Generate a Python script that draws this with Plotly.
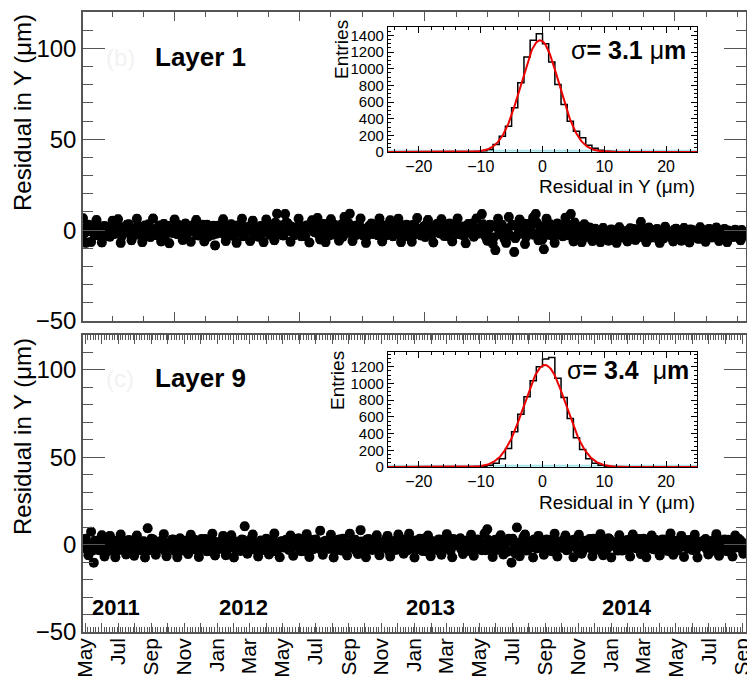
import numpy as np
import pandas as pd
import plotly.graph_objects as go

# ---------------- data ----------------
# two interleaved run series per layer (run dates every 5 days, second series offset by 2 days)
start_date_a = "2011-04-27"
start_date_b = "2011-04-29"
step_days = "5D"

layer1_resid_a = [
    6.5, -7.0, 3.0, -6.5, 1.2, 5.5, -2.8, -6.8, 2.2, 0.4,
    -3.6, 5.2, -1.2, 6.0, -7.0, 1.6, -0.8, 3.2, -5.6, 0.9,
    6.2, -2.4, -6.6, 2.6, 0.1, -3.8, 6.4, -1.6, 1.8, -6.2,
    3.4, -0.4, -7.2, 2.0, 5.8, -2.2, 0.6, -5.4, 3.6, -1.0,
    -6.4, 2.8, 5.6, -3.0, 0.3, -6.2, 3.0, 1.0, -2.6, -8.4,
    2.4, -1.4, 6.0, -6.0, 0.8, 3.2, -3.2, -7.0, 1.4, 6.2,
    -2.0, 0.0, -6.0, 5.2, 1.6, -3.6, 2.2, -6.6, 5.8, -0.6,
    2.8, -5.6, 9.0, 0.5, -2.8, 8.8, 3.6, -6.4, 1.2, -1.8,
    6.2, -3.4, 0.4, 2.6, -6.8, 5.4, -1.2, 6.6, -5.2, 1.0,
    -6.6, 2.0, 6.0, -2.4, 0.6, -5.8, 3.2, 7.2, -1.6, 9.0,
    -6.0, 2.4, 0.2, 6.4, -3.0, -7.0, 1.8, 3.6, -2.2, 0.8,
    6.4, -6.2, 2.2, -1.0, 5.4, -3.4, 0.0, 6.2, -6.6, 1.4,
    3.0, -2.8, -6.4, 2.6, 6.6, -1.4, 0.6, -3.8, 5.6, 1.8,
    -6.8, 2.8, -0.8, 6.0, -3.2, 1.0, 3.6, -6.2, 0.4, 6.4,
    -2.4, 2.0, -7.2, 3.4, 0.8, -3.6, 6.4, -1.8, 8.8, 1.6,
    -5.8, 3.0, -7.4, -11.0, 6.2, -2.0, 0.2, -7.0, 7.2, 2.4,
    -12.0, -3.0, 5.8, 0.8, -7.6, 3.4, -1.2, 6.8, 8.8, -5.6,
    2.0, -10.5, 6.2, -2.6, 0.4, -7.0, 3.6, 1.0, -3.4, 6.8,
    -1.8, 8.8, -6.2, 2.4, 0.0, -6.6, 3.2, -2.2, 1.4, -6.0,
    0.8, -3.6, -6.6, 1.2, -1.6, -5.8, 0.4, -2.8, -7.0, 1.6,
    -3.2, -0.6, -6.2, 1.0, -2.2, -5.4, 0.2, 4.5, -3.8, -6.6,
    1.4, -1.4, -4.0, 0.6, -7.0, -2.6, 1.8, -3.4, -0.8, -6.2,
    0.8, -2.0, -5.8, 1.2, -3.0, -6.8, 0.0, -1.8, -4.2, 1.6,
    -2.8, -6.4, 0.4, -1.0, -3.6, 1.4, -6.0, -2.2, 0.6, -6.6,
    -1.6, -3.8, 0.2, -2.6, -5.6, -1.2,
]
layer1_resid_b = [
    -2.0, 1.8, -0.6, 2.4, -3.0, 0.8, 2.0, -1.4, -3.2, 1.4,
    0.2, -2.2, 2.8, -0.8, -3.4, 1.2, 3.0, -1.8, 0.6, -2.6,
    2.2, -0.4, -3.0, 1.6, 3.2, -1.2, 0.4, -2.8, 2.6, -0.2,
    -3.4, 1.0, 2.4, -1.6, -0.4, 2.8, -2.4, 1.4, -3.2, 0.6,
    2.0, -1.0, -2.8, 1.8, 3.0, -0.8, -3.6, 0.0, 2.4, -2.0,
    0.8, 3.0, -2.4, -0.6, 2.2, -3.0, 1.0, 2.6, -1.2, -3.4,
    1.6, -0.2, 2.8, -2.2, 0.4, -3.2, 2.0, -1.0, 3.2, -2.6,
    0.6, 4.0, -1.6, 2.6, -3.0, 4.2, -0.4, 1.8, -2.8, 0.2,
    2.4, -1.8, -3.4, 1.2, 3.0, -0.6, 2.2, -2.4, 0.4, 3.4,
    -1.4, -3.0, 1.6, 2.8, -2.0, 0.8, -3.6, 2.0, 4.0, -0.8,
    1.4, -2.6, 3.2, -1.0, 0.6, -3.2, 2.4, -0.2, 1.8, -2.8,
    -0.4, 2.6, -3.0, 1.0, -1.6, 3.0, -2.2, 0.2, 2.2, -3.4,
    1.2, -0.8, 2.8, -2.4, 0.4, -3.0, 2.0, 3.2, -1.2, -2.6,
    0.8, 3.4, -1.8, -0.2, 2.4, -3.4, 1.4, -1.0, 2.8, -2.2,
    0.6, -3.2, 2.2, -0.6, 3.6, -2.8, 1.0, -1.4, 3.2, -3.6,
    0.2, 2.6, -4.0, 1.8, -2.2, 3.0, -5.0, 0.6, -3.0, 2.8,
    -4.4, 1.4, -1.6, 3.6, -3.8, 0.4, 2.4, -2.6, 4.0, -0.8,
    -5.2, 2.2, -1.8, 3.2, -3.4, 0.8, -2.4, 2.6, -0.6, 3.8,
    -3.0, 1.6, 4.2, -2.2, -0.4, 2.0, -3.8, 0.6, -1.4, -3.0,
    -1.0, -3.8, 0.2, -2.4, -4.4, -0.6, -3.0, -1.2, 0.4, -4.0,
    -2.0, -4.6, -0.2, -3.4, 0.6, -1.6, -3.8, 1.0, -2.6, -0.8,
    -4.2, -2.2, 0.0, -3.6, -1.0, -4.6, -0.4, -2.8, -4.0, 0.2,
    -2.4, -3.6, -0.6, -4.4, -1.4, 0.4, -3.2, -2.0, -4.8, -0.8,
    -3.0, -1.2, 0.6, -4.0, -2.2, -0.4, -3.4, -1.6, -4.2, -0.2,
    -2.8, -0.6, -3.6, -1.8, 0.0, -3.0,
]

layer9_resid_a = [
    -1.0, 3.4, -6.0, 7.4, -10.3, 2.0, -3.2, 5.4, -6.8, 0.6,
    5.0, -2.4, -7.2, 1.8, 5.8, -1.4, -5.6, 2.6, 0.2, -6.4,
    5.2, -3.0, 1.2, -7.4, 9.4, -0.8, 3.0, -5.8, 1.6, -2.0,
    6.0, -6.6, 0.4, 2.8, -3.6, -7.2, 3.6, -1.2, 1.0, -5.4,
    5.6, -2.6, 0.8, -7.0, 3.2, -0.4, -3.8, 2.2, 6.2, -6.2,
    1.4, -2.2, 5.0, -6.0, 0.0, 5.4, -7.4, 1.8, -1.6, 3.0,
    10.5, -5.2, 0.6, 5.8, -2.8, -6.8, 2.4, -0.6, 3.4, -5.6,
    1.2, 6.4, -3.2, -7.2, 2.0, 0.2, -2.0, 5.2, -6.4, 1.6,
    3.6, -3.8, -0.2, 6.0, -7.0, 2.6, -1.4, 0.8, 8.0, -5.8,
    2.2, -2.4, 5.6, -7.4, 0.4, 3.0, -3.4, 1.4, -6.2, 6.2,
    -1.8, 2.8, -5.4, 8.3, 0.0, -7.2, 3.2, -2.6, 1.0, 5.4,
    -6.0, 0.6, -1.0, 5.0, -6.8, 2.0, -3.0, 5.8, -0.6, -5.2,
    2.4, 6.2, -2.2, -7.4, 1.2, 3.4, -3.6, 0.2, 5.2, -6.6,
    1.8, -1.6, 3.0, -5.8, 0.8, 6.0, -2.8, -7.2, 2.6, -0.4,
    3.6, -5.4, 1.4, -1.8, 5.6, -6.4, 0.4, 2.2, -3.2, 6.4,
    8.8, -2.4, -7.0, 2.8, -0.8, 5.4, -5.6, 1.0, 3.4, -10.3,
    -2.0, 9.8, -6.6, 0.6, 5.8, -3.0, 2.0, -7.4, 1.6, 5.0,
    -1.2, -5.8, 3.0, 0.2, -3.8, 6.2, -6.8, 1.8, -0.6, 5.2,
    -2.6, 2.4, -7.2, 0.8, 5.6, -5.2, 1.2, -1.4, 3.2, -6.6,
    2.0, -2.2, 6.0, -6.0, 0.4, 3.6, -7.4, 1.4, -0.8, 5.4,
    -3.4, 0.0, 2.6, -6.8, 5.8, -1.8, 1.0, -5.4, 3.4, -7.2,
    0.6, 5.2, -2.8, 1.8, -6.2, 3.0, -0.2, -3.6, 6.4, -5.8,
    1.2, -1.6, 5.0, -7.0, 0.4, 2.6, -3.0, 5.6, -7.4, 1.6,
    -0.6, 3.2, -5.6, 2.0, -2.4, 6.0, -6.4, 0.8, 3.0, -3.8,
    1.4, -6.8, 5.2, -1.0, 2.2, -5.2,
]
layer9_resid_b = [
    1.8, -2.6, 0.4, -3.4, 2.2, -0.8, 3.0, -2.0, 1.0, -3.6,
    0.2, 2.4, -1.8, -3.0, 2.8, 0.6, -2.4, 1.6, -3.8, 3.2,
    -0.6, -2.8, 2.0, 0.0, -3.2, 3.4, -1.4, 1.2, -2.2, 2.6,
    -3.6, 0.8, -1.0, 3.0, -2.6, 1.4, 0.4, -3.4, 2.4, -1.6,
    -0.2, 2.8, -3.0, 1.0, -2.0, 3.2, -0.8, -3.8, 1.8, 0.4,
    -2.4, 2.2, -1.2, -3.4, 3.0, 0.6, -2.2, 1.4, -3.6, 2.6,
    0.0, -1.8, 3.4, -2.8, 1.2, -0.4, -3.2, 2.0, 0.8, -2.4,
    3.0, -3.8, 0.2, 1.8, -1.6, 2.8, -3.0, 0.6, -0.8, 3.2,
    -2.2, 1.0, -3.6, 2.4, 0.4, -2.6, 3.0, -1.0, -3.2, 1.6,
    0.0, -2.0, 2.6, -3.4, 1.2, -0.6, 3.4, -2.8, 0.8, -1.4,
    2.2, -3.6, 0.6, 1.8, -2.4, 3.0, -1.2, -3.0, 2.0, 0.2,
    -2.2, 1.4, 3.2, -3.4, 0.4, -1.6, 2.6, -2.8, 1.0, 3.0,
    -3.2, 0.8, -0.8, 2.4, -2.6, 1.6, 3.4, -3.8, 0.0, 2.0,
    -1.8, -3.0, 2.8, 0.6, -2.2, 1.2, -3.4, 3.2, -0.4, 1.8,
    -2.8, 0.2, 2.4, -3.6, 1.0, -1.0, 3.0, -2.4, 0.6, -3.2,
    2.6, -0.6, 1.4, -3.0, 3.6, -2.0, 0.4, -4.0, 2.2, 3.4,
    -5.0, 1.0, -2.6, 4.2, -3.4, 0.8, -1.4, 3.0, -2.2, 0.2,
    2.4, -3.6, 1.2, -0.8, 3.2, -2.8, 0.6, -1.8, 2.8, -3.2,
    1.6, -0.4, 3.0, -2.4, 0.0, -3.6, 2.2, 1.0, -2.0, 3.4,
    -1.2, -3.0, 2.0, 0.4, -2.6, 3.0, -0.6, 1.4, -3.4, 2.6,
    -1.8, 0.8, -3.2, 2.4, 0.2, -2.2, 3.2, -1.0, -3.6, 1.8,
    0.6, -2.4, 2.8, -0.4, -3.0, 1.2, 3.0, -2.8, 0.0, 2.2,
    -3.4, 1.6, -1.2, 2.6, -2.0, 0.4, 3.4, -3.2, 1.0, -0.8,
    2.4, -2.6, 0.8, -3.6, 3.0, -1.4, 1.8, -2.2, 0.2, 2.8,
    -3.0, 1.2, -1.6, 3.2, -2.4, 0.6,
]
resid_error = 2.2

hist_bin_lo = -25
hist_bin_width = 1
layer1_counts = [
    0, 0, 0, 0, 0, 0, 0, 1, 1, 1, 2, 2,
    3, 4, 7, 14, 30, 90, 190, 310, 530, 830, 1140, 1340, 1420,
    1300, 1080, 810, 570, 370, 250, 170, 80, 45, 20, 10, 6, 4, 3, 2,
    2, 1, 1, 1, 0, 0, 0, 0, 0, 0,
]
layer9_counts = [
    0, 0, 0, 0, 0, 0, 0, 0, 1, 1, 1, 2,
    2, 3, 5, 8, 20, 45, 100, 220, 420, 630, 840, 1030, 1200,
    1290, 1310, 1060, 830, 580, 350, 210, 100, 45, 20, 8, 5, 3, 2, 2,
    1, 1, 1, 0, 0, 0, 0, 0, 0, 0,
]
layer1_fit = {"amp": 1340, "mean": -0.4, "sigma": 3.1}
layer9_fit = {"amp": 1220, "mean": 0.4, "sigma": 3.4}

month_ticks = pd.date_range("2011-05-01", "2014-09-01", freq="MS")
month_labels = [d.strftime("%b") if i % 2 == 0 else "" for i, d in enumerate(month_ticks)]
year_labels = ["2011", "2012", "2013", "2014"]

# ---------------- figure ----------------
FONT = "Liberation Sans, Arial, sans-serif"
W, H = 747, 679
ML, MR, MT, MB = 83, 1, 12, 47
PW, PH = W - ML - MR, H - MT - MB


def px_x(p):
    return (p - ML) / PW


def px_y(p):
    return (H - MB - p) / PH


fig = go.Figure()

marker = dict(color="black", size=10, line=dict(width=0))
err = dict(type="constant", value=resid_error, color="black", thickness=1, width=3)

for vals, start, xa, ya in [(layer1_resid_a, start_date_a, "x2", "y2"),
                            (layer1_resid_b, start_date_b, "x2", "y2"),
                            (layer9_resid_a, start_date_a, "x", "y"),
                            (layer9_resid_b, start_date_b, "x", "y")]:
    dates = pd.date_range(start, periods=len(vals), freq=step_days)
    fig.add_trace(go.Scatter(x=dates, y=vals, mode="markers", marker=marker,
                             error_y=err, xaxis=xa, yaxis=ya, showlegend=False))

centers = [hist_bin_lo + hist_bin_width * (i + 0.5) for i in range(len(layer1_counts))]
xs = np.linspace(-25, 25, 500)

for counts, fit, xa, ya in [(layer1_counts, layer1_fit, "x3", "y3"),
                            (layer9_counts, layer9_fit, "x4", "y4")]:
    fig.add_trace(go.Scatter(x=[-25, 25], y=[15, 15], mode="lines",
                             line=dict(color="#a8e6ee", width=2),
                             xaxis=xa, yaxis=ya, showlegend=False))
    fig.add_trace(go.Scatter(x=centers, y=counts, mode="lines", line_shape="hvh",
                             line=dict(color="black", width=1.5),
                             xaxis=xa, yaxis=ya, showlegend=False))
    g = fit["amp"] * np.exp(-0.5 * ((xs - fit["mean"]) / fit["sigma"]) ** 2)
    fig.add_trace(go.Scatter(x=xs, y=g, mode="lines", line=dict(color="#ee0000", width=2),
                             xaxis=xa, yaxis=ya, showlegend=False))

date_range = ["2011-04-27", "2014-09-08"]
axis_line = dict(showline=True, linecolor="#555", linewidth=1.5, mirror="allticks",
                 showgrid=False, zeroline=False, ticks="inside", tickcolor="#555",
                 automargin=False)

DAY = 86400000

yaxis_common = dict(range=[-50, 120], tickvals=[-50, 0, 50, 100], ticklen=22, tickwidth=1,
                    minor=dict(dtick=10, tick0=0, ticklen=10, ticks="inside", tickcolor="#555"),
                    tickfont=dict(size=24, color="black", family=FONT), **axis_line)

fig.update_layout(
    width=W, height=H,
    margin=dict(l=ML, r=MR, t=MT, b=MB, pad=0, autoexpand=False),
    paper_bgcolor="white", plot_bgcolor="white",
    font=dict(family=FONT, color="black"),
    # bottom panel
    xaxis=dict(domain=[0, 1], anchor="y", type="date", range=date_range,
               tickmode="array", tickvals=month_ticks, ticktext=month_labels,
               tickangle=-90, ticklen=9, tickwidth=1, ticklabeloverflow="allow",
               ticklabelstandoff=-4,
               tickfont=dict(size=21, color="black", family=FONT),
               minor=dict(dtick=5 * DAY, tick0="2011-05-01", ticklen=5, ticks="inside",
                          tickcolor="#555"),
               **axis_line),
    yaxis=dict(domain=[0, px_y(335)], anchor="x", **yaxis_common),
    # top panel
    xaxis2=dict(domain=[0, 1], anchor="y2", type="date", range=date_range,
                tick0="2011-10-14", dtick=232 * DAY, ticklen=9, tickwidth=1,
                showticklabels=False,
                minor=dict(tick0="2011-10-14", dtick=58 * DAY, ticklen=5, ticks="inside",
                           tickcolor="#555"),
                **axis_line),
    yaxis2=dict(domain=[px_y(321), 1], anchor="x2", **yaxis_common),
)

inset_axis = dict(showline=True, linecolor="black", linewidth=1.2, mirror="allticks",
                  showgrid=False, zeroline=False, ticks="inside", tickcolor="black",
                  automargin=False)
for xa, ya, ytop, ybot, ymax in [("xaxis3", "yaxis3", 27, 152, 1500),
                                 ("xaxis4", "yaxis4", 352, 467, 1375)]:
    fig.update_layout({
        xa: dict(domain=[px_x(388), px_x(697)], anchor=ya.replace("axis", ""),
                 range=[-25, 25], dtick=10, ticklen=6,
                 minor=dict(dtick=2, ticklen=3, ticks="inside", tickcolor="black"),
                 tickfont=dict(size=16, color="black", family=FONT), **inset_axis),
        ya: dict(domain=[px_y(ybot), px_y(ytop)], anchor=xa.replace("axis", ""),
                 range=[0, ymax], dtick=200, ticklen=6,
                 minor=dict(dtick=50, ticklen=3, ticks="inside", tickcolor="black"),
                 tickfont=dict(size=15, color="black", family=FONT), **inset_axis),
    })

ann = []


def add(text, xp, yp, size, xanchor="center", yanchor="middle", angle=0, color="black"):
    ann.append(dict(text=text, x=px_x(xp), y=px_y(yp), xref="paper", yref="paper",
                    xanchor=xanchor, yanchor=yanchor, textangle=angle, showarrow=False,
                    font=dict(size=size, color=color, family=FONT)))


add("Residual in Y (μm)", 22, 113, 24, angle=-90)
add("Residual in Y (μm)", 22, 437, 24, angle=-90)
add("<b>Layer 1</b>", 153, 57, 26, xanchor="left")
add("<b>Layer 9</b>", 153, 378, 26, xanchor="left")
add("(b)", 120, 57, 24, color="#f2f2f2")
add("(c)", 120, 378, 24, color="#f2f2f2")
add("σ<b>= 3.1 </b>μ<b>m</b>", 688, 50, 25, xanchor="right")
add("σ<b>= 3.4  </b>μ<b>m</b>", 691, 370, 25, xanchor="right")
add("Residual in Y (μm)", 697, 187, 19, xanchor="right")
add("Residual in Y (μm)", 697, 502, 19, xanchor="right")
add("Entries", 342, 50, 19, angle=-90)
add("Entries", 337, 381, 19, angle=-90)
for lab, xp in zip(year_labels, [116, 243, 430, 627]):
    add("<b>" + lab + "</b>", xp, 607, 22)

fig.update_layout(annotations=ann)
fig.write_html("out.html",
               config={"displayModeBar": False},
               post_script="document.body.style.margin='0px';"
                           "document.body.style.overflow='hidden';")
